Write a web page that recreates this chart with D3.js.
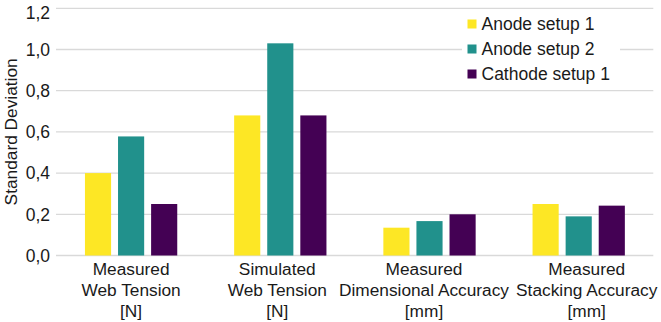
<!DOCTYPE html>
<html>
<head>
<meta charset="utf-8">
<script src="https://cdn.jsdelivr.net/npm/d3@7"></script>
<style>
  html, body { margin: 0; padding: 0; background: #fff; }
  svg { display: block; font-family: "Liberation Sans", Arial, sans-serif; }
</style>
</head>
<body>
<div id="chart"></div>
<script>
// Daten
const categories = [
    ['Measured', 'Web Tension', '[N]'],
    ['Simulated', 'Web Tension', '[N]'],
    ['Measured', 'Dimensional Accuracy', '[mm]'],
    ['Measured', 'Stacking Accuracy', '[mm]']
];
const seriesNames = ['Anode setup 1', 'Anode setup 2', 'Cathode setup 1'];
const seriesColors = ['#fde725', '#21918c', '#440154'];
const anodeSetup1 = [0.40, 0.68, 0.135, 0.25];
const anodeSetup2 = [0.578, 1.03, 0.167, 0.19];
const cathodeSetup1 = [0.25, 0.68, 0.20, 0.242];
const yTicks = [0, 0.2, 0.4, 0.6, 0.8, 1.0, 1.2];

const seriesValues = [anodeSetup1, anodeSetup2, cathodeSetup1];

// Verschiebung der Kategorienbeschriftung (wie im Original, damit sich lange Labels nicht überlappen)
const labelShift = [0, -3, -5.5, 8];

const width = 661, height = 322;
const svg = d3.select('#chart').append('svg')
    .attr('width', width)
    .attr('height', height);

// Scale
const x0 = d3.scaleBand()
    .domain(d3.range(categories.length))
    .range([56.5, 653.3])
    .padding(0);

const x1 = d3.scaleBand()
    .domain(d3.range(seriesNames.length))
    .range([0, x0.bandwidth()])
    .paddingInner(0.21)
    .paddingOuter(0.86);

const y = d3.scaleLinear()
    .domain([0, 1.2])
    .range([255.5, 8.3]);

const fmt = d3.format('.1f');

// Gitterlinien
svg.append('g')
    .selectAll('line')
    .data(yTicks)
    .enter().append('line')
    .attr('x1', 56)
    .attr('x2', 653.3)
    .attr('y1', d => y(d))
    .attr('y2', d => y(d))
    .attr('stroke', '#d9d9d9')
    .attr('stroke-width', 1.3);

// Y-Achse Beschriftungen
svg.append('g')
    .selectAll('text')
    .data(yTicks)
    .enter().append('text')
    .attr('x', 50)
    .attr('y', d => Math.max(y(d), 13))
    .attr('dy', '0.36em')
    .attr('text-anchor', 'end')
    .style('font-size', '17.5px')
    .style('fill', '#1a1a1a')
    .text(d => fmt(d).replace('.', ','));

svg.append('text')
    .attr('transform', `translate(16.5, ${y(0.6)}) rotate(-90)`)
    .attr('text-anchor', 'middle')
    .style('font-size', '17.3px')
    .style('fill', '#1a1a1a')
    .text('Standard Deviation');

// Balken
const groups = svg.append('g')
    .selectAll('g')
    .data(categories.map((c, i) => i))
    .enter().append('g')
    .attr('transform', i => `translate(${x0(i)},0)`);

groups.selectAll('rect')
    .data(i => seriesValues.map((vals, s) => ({ s, v: vals[i] })))
    .enter().append('rect')
    .attr('x', d => x1(d.s))
    .attr('width', x1.bandwidth())
    .attr('y', d => y(d.v))
    .attr('height', d => y(0) - y(d.v))
    .attr('fill', d => seriesColors[d.s]);

// X-Achse Beschriftungen
const xLabels = svg.append('g')
    .selectAll('text')
    .data(categories)
    .enter().append('text')
    .attr('text-anchor', 'middle')
    .style('font-size', '17.3px')
    .style('fill', '#1a1a1a');

xLabels.each(function (lines, i) {
    const t = d3.select(this);
    lines.forEach((line, k) => {
        t.append('tspan')
            .attr('x', x0(i) + x0.bandwidth() / 2 + labelShift[i])
            .attr('y', 275 + k * 21)
            .text(line);
    });
});

// Legende
const legend = svg.append('g');

legend.append('rect')
    .attr('x', 462)
    .attr('y', 12)
    .attr('width', 158)
    .attr('height', 74)
    .attr('fill', '#fff');

seriesNames.forEach((name, i) => {
    const row = legend.append('g')
        .attr('transform', `translate(467.5, ${24 + i * 25})`);

    row.append('rect')
        .attr('x', 0)
        .attr('y', -4.5)
        .attr('width', 9)
        .attr('height', 9)
        .attr('fill', seriesColors[i]);

    row.append('text')
        .attr('x', 14)
        .attr('y', 0)
        .attr('dy', '0.36em')
        .style('font-size', '17.5px')
        .style('fill', '#1a1a1a')
        .text(name);
});
</script>
</body>
</html>
